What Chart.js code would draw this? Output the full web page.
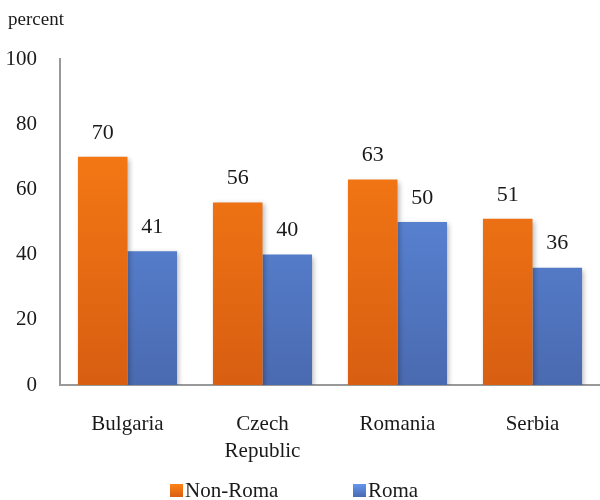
<!DOCTYPE html>
<html><head><meta charset="utf-8">
<script src="https://cdn.jsdelivr.net/npm/chart.js@4"></script>
<style>html,body{margin:0;padding:0;background:#fff}#wrap{width:600px;height:500px}</style>
</head><body><div id="wrap"><canvas id="c" width="600" height="500"></canvas></div>
<script>
const categories = [["Bulgaria"], ["Czech", "Republic"], ["Romania"], ["Serbia"]];
const seriesNames = ["Non-Roma", "Roma"];
const nonRoma = [70, 56, 63, 51];
const roma = [41, 40, 50, 36];
const yTicks = [0, 20, 40, 60, 80, 100];
const axisTitle = "percent";

const FONT = "'Liberation Serif', 'DejaVu Serif', serif";
const TEXT = '#1a1a1a';

function grad(ctx, chartArea, top, bottom) {
  const g = ctx.createLinearGradient(0, chartArea.top, 0, chartArea.bottom);
  g.addColorStop(0, top);
  g.addColorStop(1, bottom);
  return g;
}
function orangeFill(c) {
  const {ctx, chartArea} = c.chart;
  if (!chartArea) return '#F07018';
  return grad(ctx, chartArea, '#FF8214', '#D85E12');
}
function blueFill(c) {
  const {ctx, chartArea} = c.chart;
  if (!chartArea) return '#5A86D8';
  return grad(ctx, chartArea, '#6496EE', '#4A6AB0');
}

const labelsPlugin = {
  id: 'valueLabels',
  afterDatasetsDraw(chart) {
    const ctx = chart.ctx;
    ctx.save();
    ctx.font = "22px " + FONT;
    ctx.fillStyle = TEXT;
    ctx.textAlign = 'center';
    ctx.textBaseline = 'middle';
    chart.data.datasets.forEach((ds, i) => {
      chart.getDatasetMeta(i).data.forEach((bar, j) => {
        ctx.fillText(String(ds.data[j]), bar.x, bar.y - 24);
      });
    });
    // axis title
    ctx.font = "19px " + FONT;
    ctx.textAlign = 'left';
    ctx.fillText(axisTitle, 8, 20);
    // legend
    const items = [
      {text: seriesNames[0], x: 170, top: '#FF8214', bottom: '#D85E12'},
      {text: seriesNames[1], x: 353, top: '#6496EE', bottom: '#4A6AB0'}
    ];
    ctx.font = "21px " + FONT;
    items.forEach(it => {
      const g = ctx.createLinearGradient(0, 484, 0, 497);
      g.addColorStop(0, it.top); g.addColorStop(1, it.bottom);
      ctx.fillStyle = g;
      ctx.fillRect(it.x, 484, 13, 13);
      ctx.fillStyle = TEXT;
      ctx.fillText(it.text, it.x + 15, 491);
    });
    ctx.restore();
  }
};
const shadowPlugin = {
  id: 'barShadow',
  beforeDatasetsDraw(chart) {
    const ctx = chart.ctx;
    ctx.save();
    ctx.shadowColor = 'rgba(0,0,0,0.28)';
    ctx.shadowBlur = 5;
    ctx.shadowOffsetX = 2;
    ctx.shadowOffsetY = 2;
  },
  afterDatasetsDraw(chart) {
    chart.ctx.restore();
  }
};

new Chart(document.getElementById('c'), {
  type: 'bar',
  data: {
    labels: categories,
    datasets: [
      {label: seriesNames[0], data: nonRoma, backgroundColor: orangeFill, borderWidth: 0},
      {label: seriesNames[1], data: roma, backgroundColor: blueFill, borderWidth: 0}
    ]
  },
  options: {
    responsive: false,
    animation: false,
    devicePixelRatio: 1,
    layout: {padding: {top: 59, right: -5, left: 0, bottom: 0}},
    categoryPercentage: 0.734,
    barPercentage: 1.0,
    plugins: {
      legend: {display: false},
      tooltip: {enabled: false}
    },
    scales: {
      x: {
        afterFit(axis) { axis.height = 115; },
        grid: {display: false, drawTicks: false},
        border: {color: '#999', width: 2},
        ticks: {font: {family: FONT, size: 21, lineHeight: 1.3}, color: TEXT, padding: 26, maxRotation: 0}
      },
      y: {
        min: 0, max: 100,
        afterBuildTicks(axis) { axis.ticks = yTicks.map(v => ({value: v})); },
        afterFit(axis) { axis.width = 60; },
        grid: {display: false, drawTicks: false},
        border: {color: '#999', width: 2},
        ticks: {font: {family: FONT, size: 21}, color: TEXT, padding: 23}
      }
    }
  },
  plugins: [shadowPlugin, labelsPlugin]
});
</script>
</body></html>
